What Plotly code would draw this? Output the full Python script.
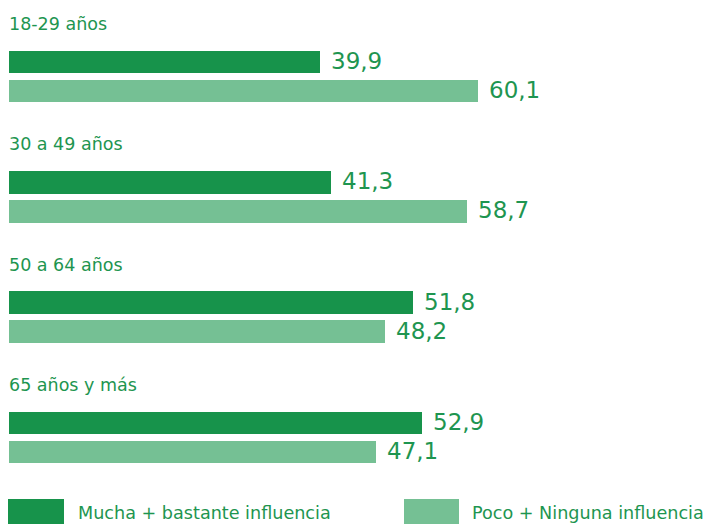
import plotly.graph_objects as go

# ---- data ----
groups = ["18-29 años", "30 a 49 años", "50 a 64 años", "65 años y más"]
series_names = ["Mucha + bastante influencia", "Poco + Ninguna influencia"]
mucha = [39.9, 41.3, 51.8, 52.9]
poco = [60.1, 58.7, 48.2, 47.1]
series_values = [mucha, poco]

colors = ["#17934B", "#75C094"]
text_color = "#1E9550"
FONT = "DejaVu Sans"

OFF = 8  # page body margin
W, H = 714 - OFF, 524 - OFF
GROUP_STEP = 120.3
BAR_STEP = 29
BAR_W = 22.5
TOP = 62 - OFF  # pixel centre of first bar
PX_PER_UNIT = 7.8
X0 = 9 - OFF

fig = go.Figure()

annotations = []
for s, (name, vals) in enumerate(zip(series_names, series_values)):
    ys = [g * GROUP_STEP + s * BAR_STEP for g in range(len(groups))]
    fig.add_trace(go.Bar(
        x=vals, y=ys, orientation="h", name=name,
        marker=dict(color=colors[s], line=dict(width=0)),
        width=BAR_W, showlegend=False, hoverinfo="x",
    ))
    for v, y in zip(vals, ys):
        annotations.append(dict(
            x=v, y=y, xref="x", yref="y", text=f"{v:.1f}".replace(".", ","),
            showarrow=False, xanchor="left", yanchor="middle", xshift=9, yshift=1,
            font=dict(family=FONT, size=23, color=text_color),
        ))

for g, label in enumerate(groups):
    annotations.append(dict(
        x=0, y=g * GROUP_STEP - 38, xref="x", yref="y", text=label,
        showarrow=False, xanchor="left", yanchor="middle", xshift=-2,
        font=dict(family=FONT, size=17.5, color=text_color),
    ))

# custom legend (pixel positions in reference, shifted by page margin)
legend_items = [(8, 64, 76), (404, 459, 470)]
shapes = []
for (x0, x1, tx), name, c in zip(legend_items, series_names, colors):
    shapes.append(dict(type="rect", xref="paper", yref="paper",
                       x0=(x0 - OFF) / W, x1=(x1 - OFF) / W,
                       y0=1 - (530 - OFF) / H, y1=1 - (499 - OFF) / H,
                       fillcolor=c, line=dict(width=0)))
    annotations.append(dict(
        x=(tx - OFF) / W, y=1 - (513 - OFF) / H, xref="paper", yref="paper", text=name,
        showarrow=False, xanchor="left", yanchor="middle",
        font=dict(family=FONT, size=17.6, color=text_color),
    ))

fig.update_layout(
    width=W, height=H,
    margin=dict(l=0, r=0, t=0, b=0),
    paper_bgcolor="white", plot_bgcolor="white",
    xaxis=dict(range=[-X0 / PX_PER_UNIT, (W - X0) / PX_PER_UNIT], visible=False, fixedrange=True),
    yaxis=dict(range=[H - TOP, -TOP], visible=False, fixedrange=True),
    annotations=annotations, shapes=shapes,
    bargap=0, showlegend=False,
)

fig.write_html("out.html")
